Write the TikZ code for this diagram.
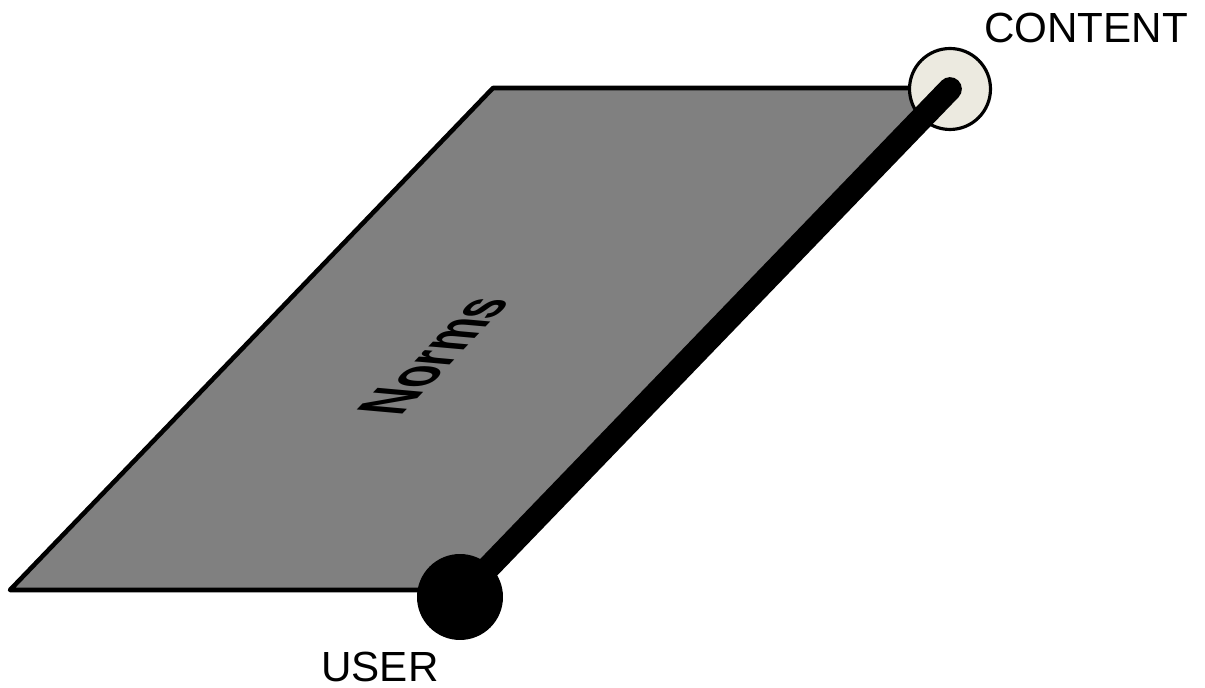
\documentclass[tikz,border=0pt]{standalone}
\usepackage{fontspec}
\setmainfont{Liberation Sans}
\usetikzlibrary{positioning}
\definecolor{planegray}{HTML}{808080}
\definecolor{contentfill}{HTML}{ECEAE0}

\begin{document}
\begin{tikzpicture}[x=0.02cm, y=-0.02cm,
  plane/.style={fill=planegray, draw=black, line width=2.6pt, line join=round},
  link/.style={line width=13.5pt, line cap=round},
  contentdot/.style={circle, fill=contentfill, draw=black, line width=1.8pt, minimum size=1.62cm, inner sep=0pt},
  userdot/.style={circle, fill=black, minimum size=1.72cm, inner sep=0pt},
  lbl/.style={font=\fontsize{24}{28}\selectfont, inner sep=0pt}]
\useasboundingbox (0,0) rectangle (1205,688);

% Plane
\draw[plane] (10,590) -- (493,88) -- (948,88) -- (460,590) -- cycle;
% text lying on the plane (sheared)
\node[font=\fontsize{28}{32}\selectfont\bfseries, inner sep=0pt, cm={0.72,0.75,-1.35,0.12,(0,0)}] (norms) at (434,356) {Norms};

% Content end
\node[contentdot] (content) at (950,89) {};
\coordinate (u) at (460,597);
\draw[link] (u) -- (content.center);
% User end
\node[userdot] (user) at (u) {};

% Labels
\node[lbl] (contentlbl) at (1086,28) {CONTENT};
\node[lbl] (userlbl) at (380,667) {USER};
\end{tikzpicture}
\end{document}
